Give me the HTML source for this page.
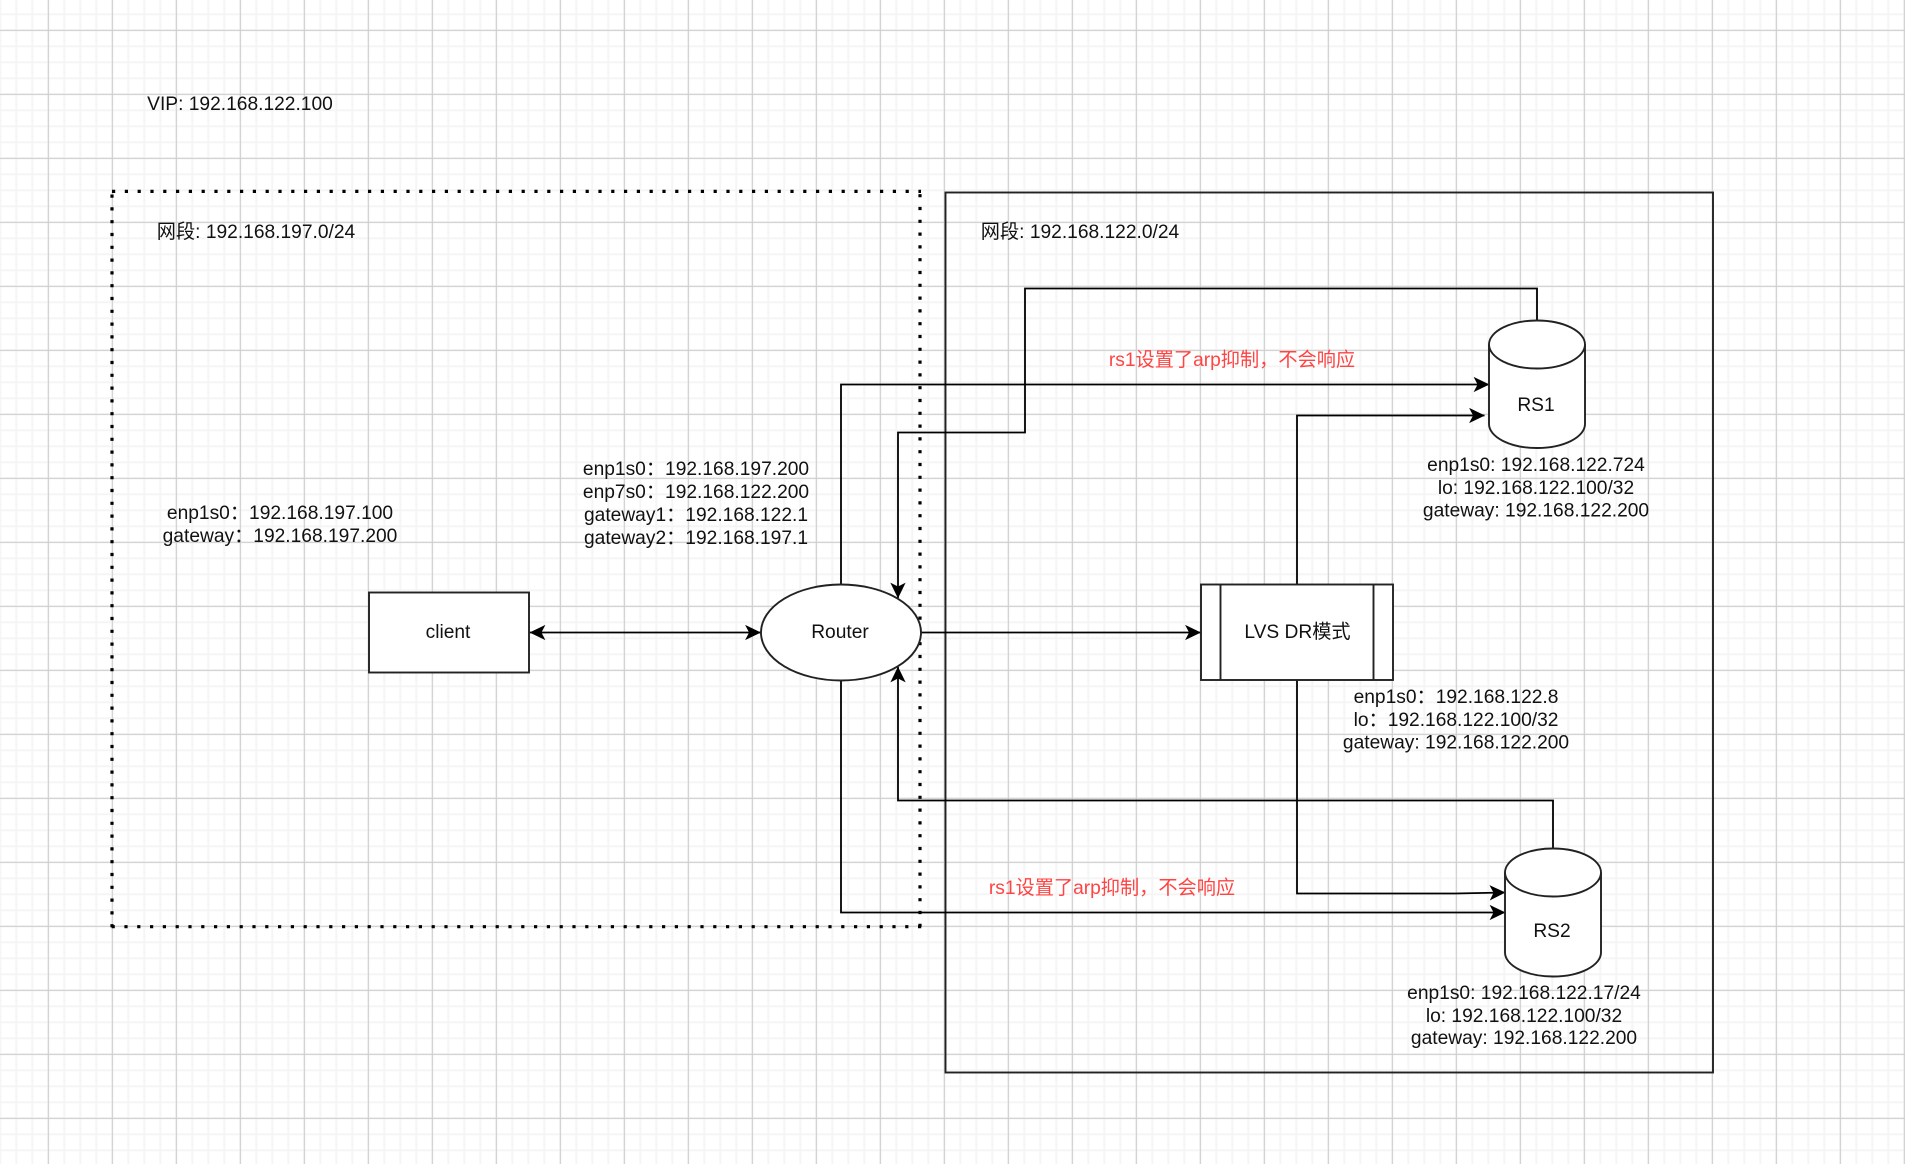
<!DOCTYPE html>
<html><head><meta charset="utf-8"><style>
html,body{margin:0;padding:0;background:#fff;width:1905px;height:1164px;overflow:hidden}
svg{display:block}
text{font-family:"Liberation Sans","Noto Sans CJK SC",sans-serif;font-size:19.2px;fill:#111;text-anchor:middle}
.r{fill:#f44}
.l{fill:none;stroke:#000;stroke-width:1.8}
.s{fill:#fff;stroke:#222;stroke-width:1.9}
.d{fill:none;stroke:#000;stroke-width:3.2;stroke-dasharray:3.2 9.6}
</style></head><body>
<svg width="1905" height="1164" viewBox="0 0 1905 1164" xmlns="http://www.w3.org/2000/svg">
<defs>
<pattern id="g1" width="16" height="16" patternUnits="userSpaceOnUse" x="-0.7" y="13.3">
<rect width="2" height="16" fill="#f5f5f5"/><rect width="16" height="2" fill="#f5f5f5"/>
</pattern>
<pattern id="g2" width="64" height="64" patternUnits="userSpaceOnUse" x="47.8" y="29.8">
<rect width="1.1" height="64" fill="#cdcdcd"/><rect width="64" height="1.1" fill="#cdcdcd"/>
</pattern>
<marker id="a" markerUnits="userSpaceOnUse" markerWidth="20" markerHeight="20" refX="16" refY="10" orient="auto-start-reverse" overflow="visible">
<path d="M1.500 3.200L15.500 10L1.500 16.800L5 10Z" fill="#000" stroke="#000" stroke-width="0.8"/>
</marker>
</defs>
<rect width="1905" height="1164" fill="#fff"/>
<rect width="1905" height="1164" fill="url(#g1)"/>
<rect width="1905" height="1164" fill="url(#g2)"/>

<path class="d" d="M112 191.400H921"/>
<path class="d" d="M920 194.100V928"/>
<path class="d" d="M921.200 926.700H111"/>
<path class="d" d="M112 194.500V928"/>
<rect x="945.500" y="192.500" width="767.500" height="880" fill="none" stroke="#222" stroke-width="1.9"/>

<path class="l" d="M1537 321V288.500H1025V432.500H898V598" marker-end="url(#a)"/>
<path class="l" d="M841 584V384.500H1489" marker-end="url(#a)"/>
<path class="l" d="M1297 584V415.500H1484.500" marker-end="url(#a)"/>
<path class="l" d="M1297 680V893.500H1455L1505 892.500" marker-end="url(#a)"/>
<path class="l" d="M841 680V912.500H1505" marker-end="url(#a)"/>
<path class="l" d="M1553 848V800.500H898V667" marker-end="url(#a)"/>
<path class="l" d="M921 632.500H1200.500" marker-end="url(#a)"/>
<path class="l" d="M530 632.500H760.500" marker-start="url(#a)" marker-end="url(#a)"/>

<rect class="s" x="369" y="592.500" width="160" height="80"/>
<ellipse class="s" cx="841" cy="632.500" rx="80" ry="48"/>
<rect class="s" x="1201" y="584.500" width="192" height="95.500"/>
<path class="s" d="M1220.500 584.500V680M1373.500 584.500V680"/>
<path class="s" d="M1489 344.500a48 24 0 0 1 96 0V424a48 24 0 0 1 -96 0Z"/>
<path class="s" fill="none" d="M1489 344.500a48 24 0 0 0 96 0"/>
<path class="s" d="M1505 872.500a48 24 0 0 1 96 0V952.500a48 24 0 0 1 -96 0Z"/>
<path class="s" fill="none" d="M1505 872.500a48 24 0 0 0 96 0"/>

<text x="240" y="110">VIP: 192.168.122.100</text>
<text x="256" y="238">网段: 192.168.197.0/24</text>
<text x="1080" y="238">网段: 192.168.122.0/24</text>
<text x="280" y="519">enp1s0：192.168.197.100</text>
<text x="280" y="542">gateway：192.168.197.200</text>
<text x="696" y="475">enp1s0：192.168.197.200</text>
<text x="696" y="498">enp7s0：192.168.122.200</text>
<text x="696" y="521">gateway1：192.168.122.1</text>
<text x="696" y="544">gateway2：192.168.197.1</text>
<text x="448" y="638">client</text>
<text x="840" y="638">Router</text>
<text x="1297.500" y="638">LVS DR模式</text>
<text x="1456" y="703">enp1s0：192.168.122.8</text>
<text x="1456" y="726">lo：192.168.122.100/32</text>
<text x="1456" y="748.500">gateway: 192.168.122.200</text>
<text x="1536" y="411">RS1</text>
<text x="1536" y="471">enp1s0: 192.168.122.724</text>
<text x="1536" y="494">lo: 192.168.122.100/32</text>
<text x="1536" y="516.500">gateway: 192.168.122.200</text>
<text x="1552" y="937">RS2</text>
<text x="1524" y="999">enp1s0: 192.168.122.17/24</text>
<text x="1524" y="1022">lo: 192.168.122.100/32</text>
<text x="1524" y="1044">gateway: 192.168.122.200</text>
<text class="r" x="1232" y="366">rs1设置了arp抑制，不会响应</text>
<text class="r" x="1112" y="894">rs1设置了arp抑制，不会响应</text>
</svg>
</body></html>
